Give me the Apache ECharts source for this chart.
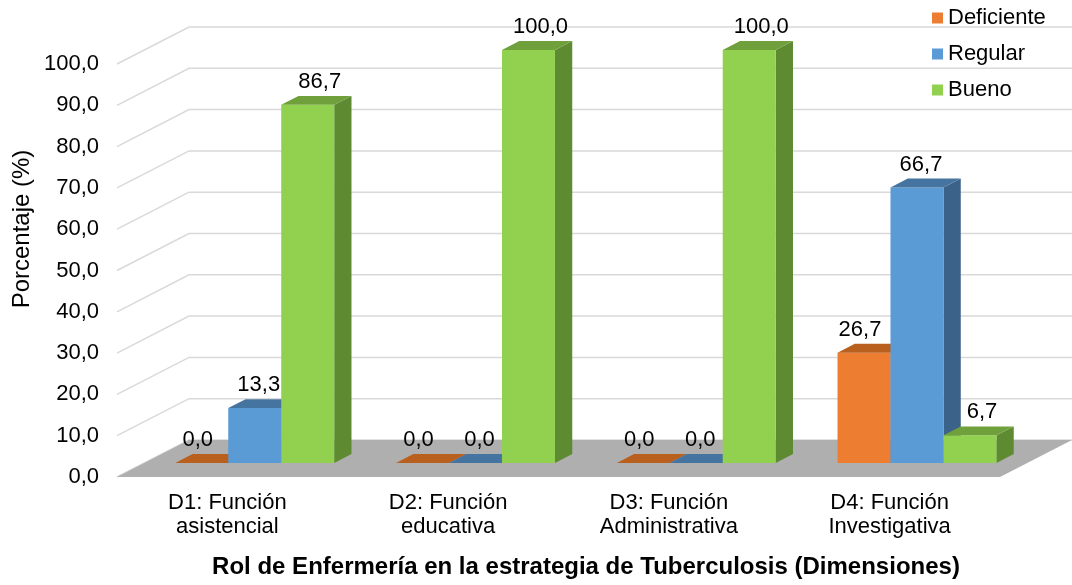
<!DOCTYPE html>
<html>
<head>
<meta charset="utf-8">
<script src="https://cdn.jsdelivr.net/npm/echarts@6/dist/echarts.min.js"></script>
<style>
  html, body { margin: 0; padding: 0; background: #fff; }
  #chart { width: 1072px; height: 585px; }
</style>
</head>
<body>
<div id="chart"></div>
<script>
// datos
var categories = ['D1: Función\nasistencial', 'D2: Función\neducativa', 'D3: Función\nAdministrativa', 'D4: Función\nInvestigativa'];
var deficiente = [0.0, 0.0, 0.0, 26.7];
var regular = [13.3, 0.0, 0.0, 66.7];
var bueno = [86.7, 100.0, 100.0, 6.7];
var yTicks = [0, 10, 20, 30, 40, 50, 60, 70, 80, 90, 100];

var FONT = '"Liberation Sans", Arial, sans-serif';
var DEPTH = [72, -37];          // vector de profundidad del piso
var BAR_FRONT = 0.38, BAR_BACK = 0.62;

function fmt(v) { return Number(v).toFixed(1).replace('.', ','); }

// barra 3d: frente, tapa y lado
function barSeries(name, data, idx, colors) {
  return {
    name: name,
    type: 'custom',
    z: 3,
    data: data.map(function (v, i) { return [i, v]; }),
    itemStyle: { color: colors[0] },
    renderItem: function (params, api) {
      var cat = api.value(0), val = api.value(1);
      var band = api.size([1, 0])[0];
      var bw = band * 0.24;
      var top = api.coord([cat, val]);
      var base = api.coord([cat, 0]);
      var sx = DEPTH[0] * BAR_FRONT, sy = DEPTH[1] * BAR_FRONT;
      var dx = DEPTH[0] * (BAR_BACK - BAR_FRONT), dy = DEPTH[1] * (BAR_BACK - BAR_FRONT);
      var x0 = top[0] - 1.5 * bw + idx * bw + sx;
      var x1 = x0 + bw;
      var yt = top[1] + sy, yb = base[1] + sy;
      return {
        type: 'group',
        children: [
          { type: 'polygon', shape: { points: [[x1, yt], [x1 + dx, yt + dy], [x1 + dx, yb + dy], [x1, yb]] }, style: { fill: colors[2] } },
          { type: 'rect', shape: { x: x0, y: yt, width: bw, height: yb - yt }, style: { fill: colors[0] } },
          { type: 'polygon', shape: { points: [[x0, yt], [x1, yt], [x1 + dx, yt + dy], [x0 + dx, yt + dy]] }, style: { fill: colors[1] } },
          {
            type: 'text',
            x: x0 + bw / 2 + (idx - 1) * 8 + 4,
            y: yt + dy - 3,
            z2: 10,
            style: { text: fmt(val), font: '22px ' + FONT, fill: '#000', align: 'center', verticalAlign: 'bottom' }
          }
        ]
      };
    }
  };
}

var chart = echarts.init(document.getElementById('chart'));

chart.setOption({
  animation: false,
  grid: { left: 117, right: 72, top: 64, bottom: 108 },
  legend: {
    orient: 'vertical',
    left: 932,
    top: 6,
    padding: 0,
    icon: 'rect',
    itemWidth: 11,
    itemHeight: 11,
    itemGap: 12,
    textStyle: { fontFamily: FONT, fontSize: 22, lineHeight: 24, color: '#000' },
    data: ['Deficiente', 'Regular', 'Bueno']
  },
  xAxis: {
    type: 'category',
    data: categories,
    axisLine: { show: false },
    axisTick: { show: false },
    axisLabel: { fontFamily: FONT, fontSize: 22, lineHeight: 24, margin: 14, color: '#000' }
  },
  yAxis: {
    type: 'value',
    min: 0,
    max: 100,
    interval: 10,
    splitLine: { show: false },
    axisLine: { show: false },
    axisTick: { show: false },
    axisLabel: { fontFamily: FONT, fontSize: 22, margin: 18, color: '#000', formatter: fmt }
  },
  graphic: [
    {
      type: 'text', x: 586, y: 567,
      style: { text: 'Rol de Enfermería en la estrategia de Tuberculosis (Dimensiones)', font: 'bold 24px ' + FONT, fill: '#000', align: 'center', verticalAlign: 'middle' }
    },
    {
      type: 'text', x: 22, y: 229, rotation: Math.PI / 2,
      style: { text: 'Porcentaje (%)', font: '24px ' + FONT, fill: '#000', align: 'center', verticalAlign: 'middle' }
    }
  ],
  series: [
    {
      // lineas de division en pared lateral y fondo
      type: 'custom',
      z: 1,
      silent: true,
      data: yTicks.map(function (v) { return [0, v]; }),
      renderItem: function (params, api) {
        var cs = params.coordSys;
        var y = api.coord([0, api.value(1)])[1];
        var xl = cs.x, xb = cs.x + DEPTH[0], xr = cs.x + cs.width + DEPTH[0];
        return {
          type: 'polyline',
          shape: { points: [[xl, y], [xb, y + DEPTH[1]], [xr, y + DEPTH[1]]] },
          style: { stroke: '#D9D9D9', lineWidth: 1.5, fill: null }
        };
      }
    },
    {
      // piso gris
      type: 'custom',
      z: 2,
      silent: true,
      data: [[0, 0]],
      renderItem: function (params, api) {
        var cs = params.coordSys;
        var y = api.coord([0, 0])[1];
        var xl = cs.x, xr = cs.x + cs.width;
        return {
          type: 'polygon',
          shape: { points: [[xl, y], [xr, y], [xr + DEPTH[0], y + DEPTH[1]], [xl + DEPTH[0], y + DEPTH[1]]] },
          style: { fill: '#AFAFAF' }
        };
      }
    },
    barSeries('Deficiente', deficiente, 0, ['#ED7D31', '#B9601F', '#A9561C']),
    barSeries('Regular', regular, 1, ['#5B9BD5', '#4674A0', '#3B6288']),
    barSeries('Bueno', bueno, 2, ['#92D050', '#70A03C', '#5E8A32'])
  ]
});
</script>
</body>
</html>
